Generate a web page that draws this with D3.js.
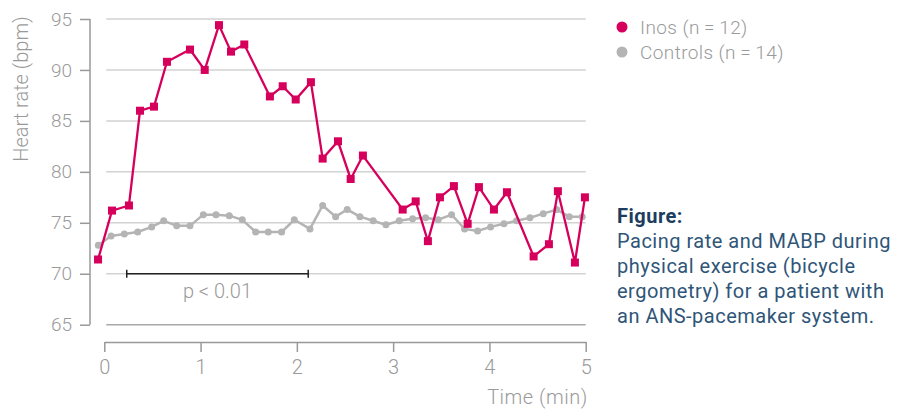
<!DOCTYPE html>
<html>
<head>
<meta charset="utf-8">
<script src="https://cdn.jsdelivr.net/npm/d3@7"></script>
<style>
  body { margin: 0; background: #fff; }
  text { font-family: Roboto, "Open Sans", sans-serif; }
</style>
</head>
<body>
<div id="chart"></div>
<script>
// Inos (pacing rate) series
const inosTime = [-0.065, 0.08, 0.256, 0.371, 0.516, 0.651, 0.89, 1.043, 1.191, 1.316, 1.454,
    1.72, 1.853, 1.988, 2.146, 2.268, 2.427, 2.559, 2.686, 3.099, 3.234, 3.361, 3.486,
    3.631, 3.774, 3.891, 4.047, 4.182, 4.459, 4.618, 4.711, 4.888, 4.992];
const inosRate = [71.4, 76.2, 76.7, 86.0, 86.4, 90.8, 92.0, 90.0, 94.4, 91.8, 92.5,
    87.4, 88.4, 87.1, 88.8, 81.3, 83.0, 79.3, 81.6, 76.3, 77.1, 73.2, 77.5,
    78.6, 74.9, 78.5, 76.3, 78.0, 71.7, 72.9, 78.1, 71.1, 77.5];

// Controls series
const ctrlTime = [-0.062, 0.07, 0.208, 0.347, 0.492, 0.617, 0.752, 0.89, 1.028, 1.16, 1.298,
    1.433, 1.572, 1.703, 1.842, 1.973, 2.136, 2.268, 2.403, 2.523, 2.655, 2.793, 2.925,
    3.063, 3.202, 3.337, 3.468, 3.607, 3.742, 3.877, 4.012, 4.151, 4.282, 4.421, 4.559,
    4.698, 4.829, 4.964];
const ctrlRate = [72.8, 73.7, 73.9, 74.1, 74.6, 75.2, 74.7, 74.7, 75.8, 75.8, 75.7,
    75.3, 74.1, 74.1, 74.1, 75.3, 74.4, 76.7, 75.6, 76.3, 75.6, 75.2, 74.8,
    75.2, 75.4, 75.5, 75.3, 75.8, 74.4, 74.2, 74.6, 74.9, 75.2, 75.5, 75.9,
    76.3, 75.6, 75.6];

const xTicks = [0, 1, 2, 3, 4, 5];
const yTicks = [65, 70, 75, 80, 85, 90, 95];
const legendLabels = ["Inos (n\u2009=\u200912)", "Controls (n\u2009=\u200914)"];
const pRange = [0.233, 2.118];
const pLevel = 70;
const captionTitle = "Figure:";
const captionLines = ["Pacing rate and MABP during", "physical exercise (bicycle",
    "ergometry) for a patient with", "an ANS-pacemaker system."];

const width = 897, height = 413;
const red = "#d6005c", grey = "#b4b4b4", textGrey = "#9a9a9a";

const x = d3.scaleLinear().domain([0, 5]).range([104.3, 585.7]);
const y = d3.scaleLinear().domain([65, 95]).range([324.7, 19]);

const svg = d3.select("#chart").append("svg")
    .attr("width", width)
    .attr("height", height)
    .attr("viewBox", [0, 0, width, height]);

// gridlines
svg.append("g")
    .selectAll()
    .data(yTicks)
    .join("line")
    .attr("x1", x(0) + 2)
    .attr("x2", x(5))
    .attr("y1", d => y(d))
    .attr("y2", d => y(d))
    .attr("stroke", d => d === 65 ? "#a8a8a8" : "#d2d2d2")
    .attr("stroke-width", 1.5);

// y axis
svg.append("g")
    .attr("transform", "translate(90,0)")
    .call(d3.axisLeft(y).tickValues(yTicks).tickSize(10).tickPadding(8))
    .call(g => g.select(".domain").attr("stroke", "#999").attr("stroke-width", 1.5).attr("d", `M0,${y(65)}V${y(95)}`))
    .call(g => g.selectAll(".tick line").attr("stroke", "#999").attr("stroke-width", 1.5))
    .call(g => g.selectAll(".tick text")
        .attr("fill", textGrey)
        .style("font-size", "19px")
        .style("font-weight", 300)
        .style("font-family", "Roboto, sans-serif"));

svg.append("text")
    .attr("transform", `translate(28,${89}) rotate(-90)`)
    .attr("text-anchor", "middle")
    .attr("fill", textGrey)
    .style("font-size", "20px")
    .style("font-weight", 300)
    .text("Heart rate (bpm)");

// x axis
svg.append("g")
    .attr("transform", "translate(0,342)")
    .call(d3.axisBottom(x).tickValues(xTicks).tickFormat(d3.format("d")).tickSize(10).tickPadding(8).tickSizeOuter(0))
    .call(g => g.select(".domain").attr("stroke", "#999").attr("stroke-width", 1.5))
    .call(g => g.selectAll(".tick line").attr("stroke", "#999").attr("stroke-width", 1.5))
    .call(g => g.selectAll(".tick text")
        .attr("fill", textGrey)
        .style("font-size", "20px")
        .style("font-weight", 300)
        .style("font-family", "Roboto, sans-serif"));

svg.append("text")
    .attr("x", x(5) + 2)
    .attr("y", 404)
    .attr("text-anchor", "end")
    .attr("fill", textGrey)
    .style("font-size", "20px")
    .style("font-weight", 300)
    .style("letter-spacing", "0.5px")
    .text("Time (min)");

// significance bracket
const pg = svg.append("g").attr("stroke", "#222").attr("stroke-width", 1.5);
pg.append("line")
    .attr("x1", x(pRange[0])).attr("x2", x(pRange[1]))
    .attr("y1", y(pLevel)).attr("y2", y(pLevel));
pg.selectAll(".end")
    .data(pRange)
    .join("line")
    .attr("x1", d => x(d)).attr("x2", d => x(d))
    .attr("y1", y(pLevel) - 4).attr("y2", y(pLevel) + 4);
svg.append("text")
    .attr("x", x((pRange[0] + pRange[1]) / 2))
    .attr("y", 298)
    .attr("text-anchor", "middle")
    .attr("fill", textGrey)
    .style("font-size", "20px")
    .style("font-weight", 300)
    .text("p < 0.01");

// controls series
const ctrl = ctrlTime.map((t, i) => ({ t, v: ctrlRate[i] }));
const inos = inosTime.map((t, i) => ({ t, v: inosRate[i] }));
const line = d3.line().x(d => x(d.t)).y(d => y(d.v));

svg.append("path")
    .datum(ctrl)
    .attr("fill", "none")
    .attr("stroke", grey)
    .attr("stroke-width", 2.5)
    .attr("d", line);
svg.append("g")
    .attr("fill", grey)
    .selectAll()
    .data(ctrl)
    .join("circle")
    .attr("cx", d => x(d.t))
    .attr("cy", d => y(d.v))
    .attr("r", 3.5);

// inos series
svg.append("path")
    .datum(inos)
    .attr("fill", "none")
    .attr("stroke", red)
    .attr("stroke-width", 2.3)
    .attr("d", line);
svg.append("g")
    .attr("fill", red)
    .selectAll()
    .data(inos)
    .join("rect")
    .attr("x", d => x(d.t) - 4)
    .attr("y", d => y(d.v) - 4)
    .attr("width", 8)
    .attr("height", 8);

// legend
const legend = svg.append("g")
    .selectAll()
    .data(legendLabels)
    .join("g")
    .attr("transform", (d, i) => `translate(622,${27 + i * 25})`);
legend.append("circle")
    .attr("r", 5.5)
    .attr("fill", (d, i) => i === 0 ? red : grey);
legend.append("text")
    .attr("x", 18)
    .attr("dy", "0.35em")
    .attr("fill", textGrey)
    .style("font-size", "19px")
    .style("font-weight", 300)
    .style("letter-spacing", "0.4px")
    .text(d => d);

// caption
const cap = svg.append("text")
    .attr("x", 617)
    .attr("y", 223)
    .style("font-size", "20px")
    .style("letter-spacing", "0.5px");
cap.append("tspan")
    .style("font-weight", 700)
    .attr("fill", "#1d3d5e")
    .text(captionTitle);
cap.selectAll(".ln")
    .data(captionLines)
    .join("tspan")
    .attr("x", 617)
    .attr("dy", 25)
    .attr("fill", "#2f5578")
    .text(d => d);
</script>
</body>
</html>
